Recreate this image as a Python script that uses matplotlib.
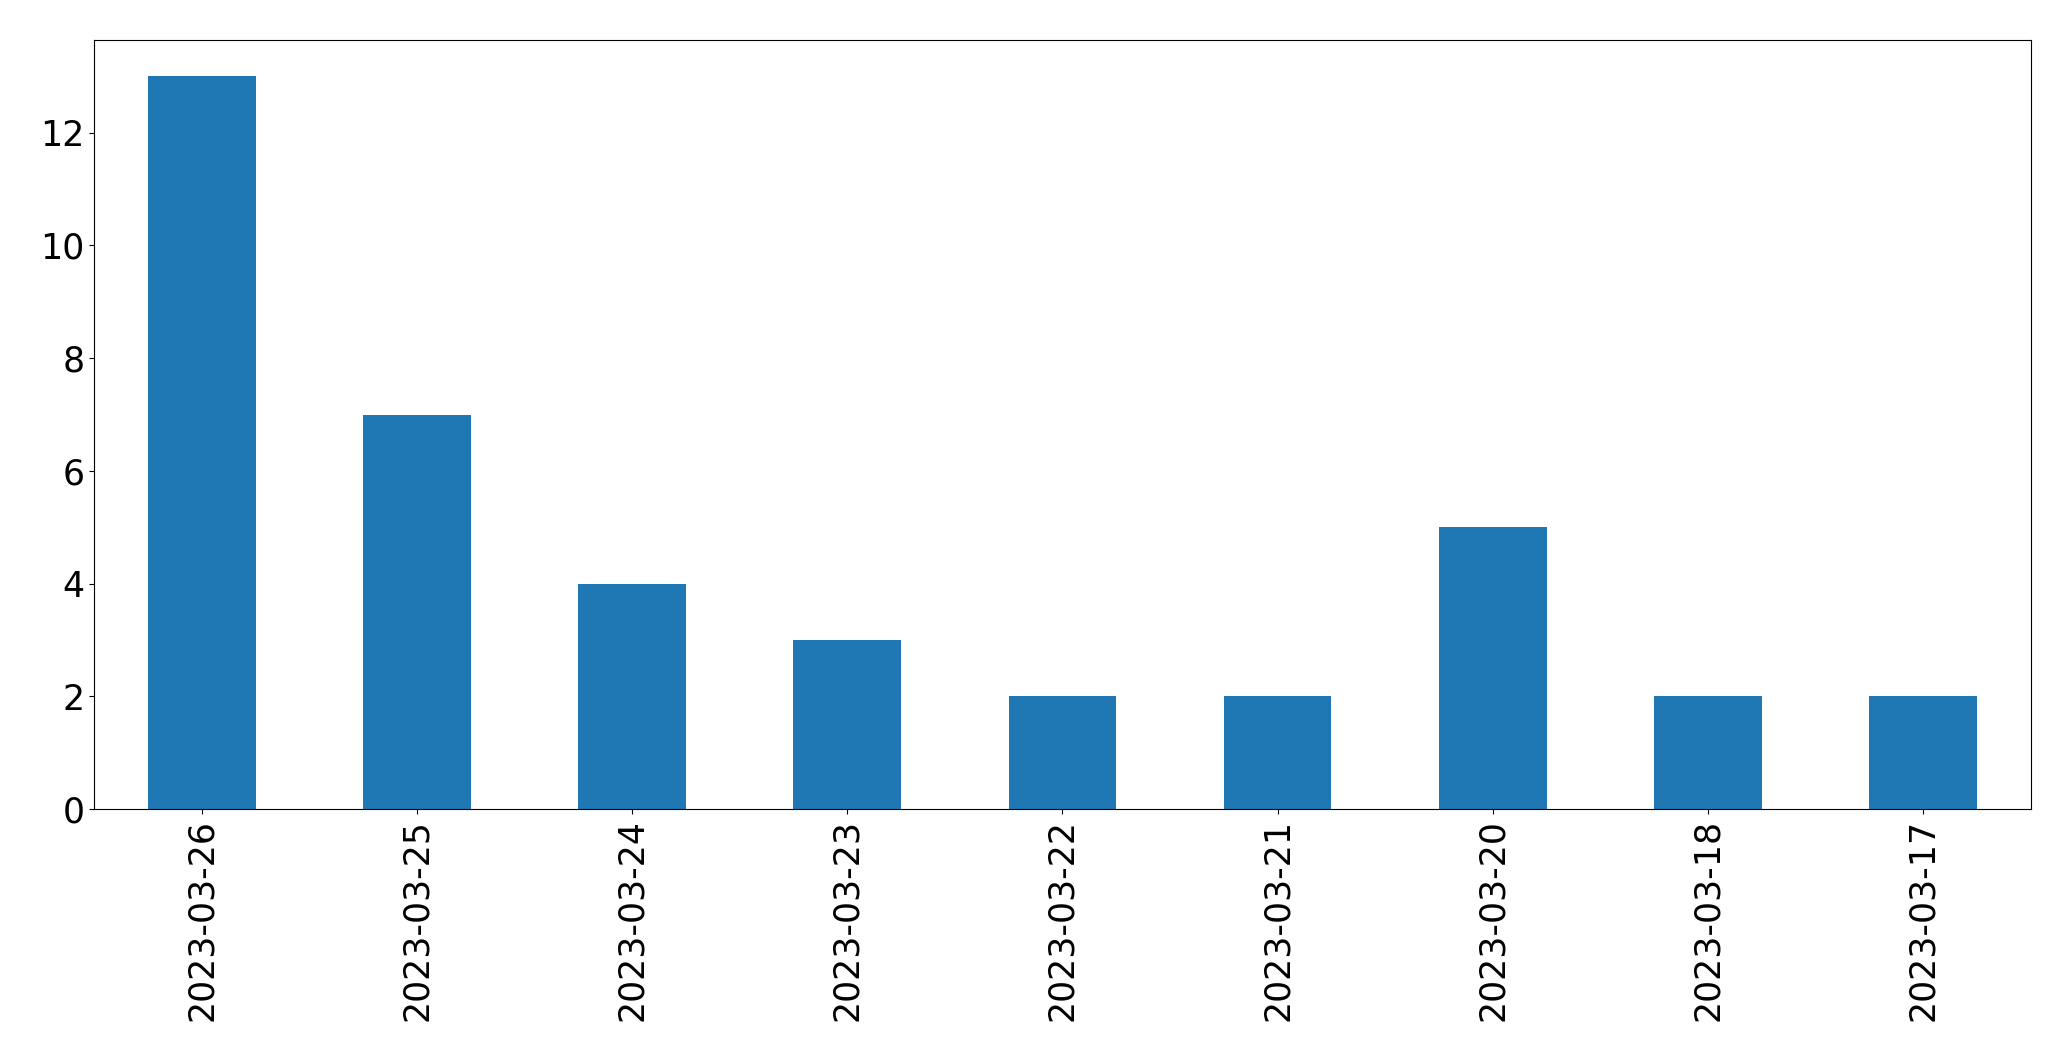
import matplotlib
matplotlib.use("Agg")
import matplotlib.pyplot as plt
import pandas as pd

dates: list[str] = [
    "2023-03-26",
    "2023-03-25",
    "2023-03-24",
    "2023-03-23",
    "2023-03-22",
    "2023-03-21",
    "2023-03-20",
    "2023-03-18",
    "2023-03-17",
]
counts: list[int] = [13, 7, 4, 3, 2, 2, 5, 2, 2]


def plot_counts(series: pd.Series) -> None:
    fig = plt.figure(figsize=(20.71, 10.61), dpi=100)
    ax = fig.add_axes([0.0455, 0.2375, 0.935, 0.725])
    series.plot(kind="bar", ax=ax, color="#1f77b4")
    ax.tick_params(axis="both", labelsize=25)
    ax.set_xlabel("")
    fig.savefig("out.png", dpi=100)


def main() -> None:
    series = pd.Series(counts, index=dates)
    plot_counts(series)


if __name__ == "__main__":
    main()
